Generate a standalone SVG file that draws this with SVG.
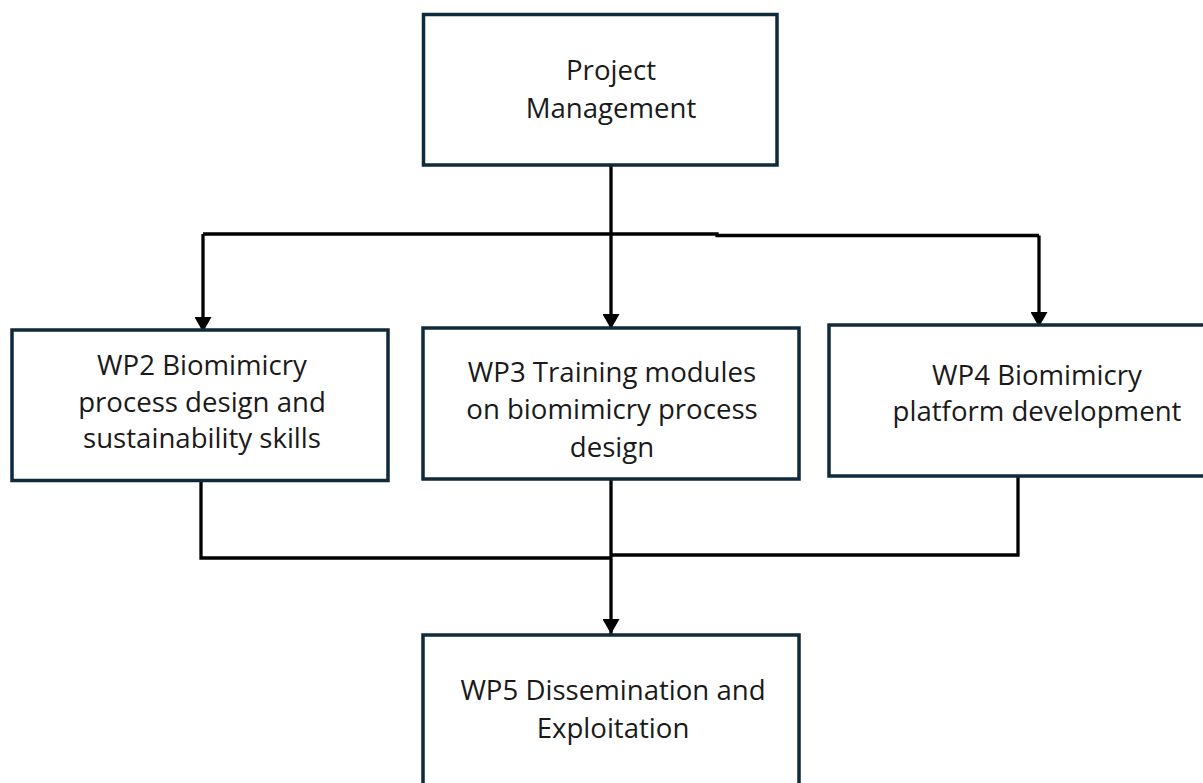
<svg xmlns="http://www.w3.org/2000/svg" width="1203" height="783" viewBox="0 0 1203 783">
  <defs>
    <style>
      .box { fill: #ffffff; stroke: #0f2a3a; stroke-width: 3.5; }
      .lbl { font-family: "Open Sans", "Liberation Sans", sans-serif; font-size: 27.6px; fill: #1a1a1a; text-anchor: middle; }
      .wire { fill: none; stroke: #000000; stroke-width: 3.3; }
    </style>
    <marker id="arr" markerUnits="userSpaceOnUse" markerWidth="15" markerHeight="17" viewBox="0 0 15 17" refX="15" refY="8.5" orient="auto">
      <path d="M0,0 L15,8.5 L0,17 z" fill="#000000"/>
    </marker>
  </defs>
  <rect width="1203" height="783" fill="#ffffff"/>

  <g id="connectors">
    <path class="wire" d="M611,166 V329" marker-end="url(#arr)"/>
    <path class="wire" d="M203,234 H717 V235.5 H1039"/>
    <path class="wire" d="M203,234 V332" marker-end="url(#arr)"/>
    <path class="wire" d="M1039,235.5 V327" marker-end="url(#arr)"/>
    <path class="wire" d="M201,481 V558 H611"/>
    <path class="wire" d="M1018,477 V555 H611"/>
    <path class="wire" d="M611,480 V634" marker-end="url(#arr)"/>
  </g>

  <g id="pm">
    <rect class="box" x="423.5" y="14.5" width="353.5" height="150.5"/>
    <text class="lbl" x="611" y="80">Project</text>
    <text class="lbl" x="611" y="118">Management</text>
  </g>

  <g id="wp2">
    <rect class="box" x="12" y="330" width="376" height="150.5"/>
    <text class="lbl" x="202" y="375">WP2 Biomimicry</text>
    <text class="lbl" x="202" y="412">process design and</text>
    <text class="lbl" x="202" y="448">sustainability skills</text>
  </g>

  <g id="wp3">
    <rect class="box" x="423" y="328" width="376" height="151"/>
    <text class="lbl" x="612" y="382">WP3 Training modules</text>
    <text class="lbl" x="612" y="419">on biomimicry process</text>
    <text class="lbl" x="612" y="457">design</text>
  </g>

  <g id="wp4">
    <rect class="box" x="829" y="325" width="390" height="151"/>
    <text class="lbl" x="1037" y="385">WP4 Biomimicry</text>
    <text class="lbl" x="1037" y="421">platform development</text>
  </g>

  <g id="wp5">
    <rect class="box" x="423" y="635" width="376" height="170"/>
    <text class="lbl" x="613" y="700">WP5 Dissemination and</text>
    <text class="lbl" x="613" y="738">Exploitation</text>
  </g>
</svg>
